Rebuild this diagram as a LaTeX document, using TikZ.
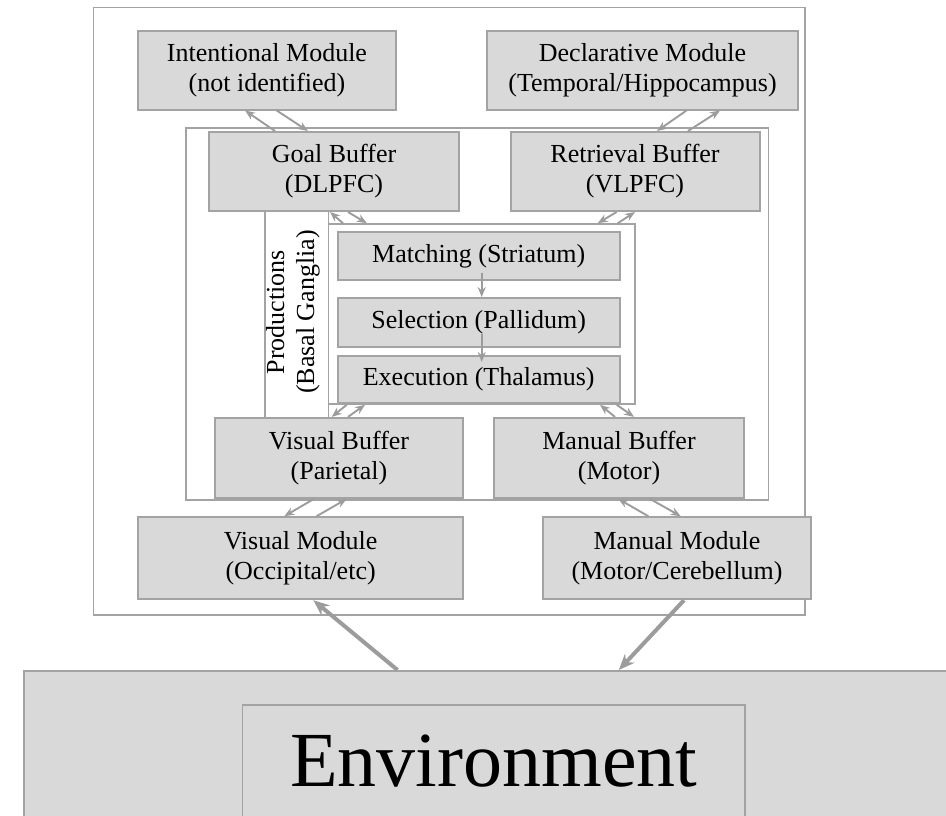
\documentclass[tikz,border=0pt]{standalone}
\usepackage{fontspec}
\setmainfont{Liberation Serif}
\usetikzlibrary{calc,arrows.meta}
\definecolor{boxfill}{HTML}{D9D9D9}
\definecolor{boxline}{HTML}{A3A3A3}
\definecolor{arrgray}{HTML}{9C9C9C}
\tikzset{
	module/.style={draw=boxline, fill=boxfill, line width=2pt, align=center, inner sep=0pt, font=\fontsize{26}{30}\selectfont},
	frame/.style={draw=boxline, line width=1.6pt},
	link/.style={draw=arrgray, line width=1.9pt, -{Stealth[length=10pt,width=8pt]}},
	biglink/.style={draw=arrgray, line width=4pt, -{Stealth[length=16pt,width=13pt]}},
}

\begin{document}
\begin{tikzpicture}[x=1pt,y=-1pt]
		%%%%% START %%%%%
		\useasboundingbox (0,0) rectangle (946,815);
		
		\draw[frame] (93.3,7.3) rectangle (805,615);
		\draw[frame] (186,127.7) rectangle (768.3,500);
		
		\node[frame, minimum width=306.5, minimum height=180] (prod) at (481.75,314) {};
		\draw[frame] (265,211) -- (265,418);
		\draw[frame] (328.5,211) -- (328.5,418);
		\node[rotate=90, align=center, font=\fontsize{26}{30}\selectfont] (prodlbl) at (293,312) {Productions\\(Basal Ganglia)};
		
		\node[module, minimum width=258, minimum height=79] (intent) at (267,70) {Intentional Module\\(not identified)};
		\node[module, minimum width=311, minimum height=79] (declar) at (642.5,70) {Declarative Module\\(Temporal/Hippocampus)};
		\node[module, minimum width=250, minimum height=79] (goal) at (334,171.5) {Goal Buffer\\(DLPFC)};
		\node[module, minimum width=249, minimum height=79] (retr) at (635,171.5) {Retrieval Buffer\\(VLPFC)};
		
		\node[module, minimum width=282, minimum height=48] (match) at (478.7,256) {Matching (Striatum)};
		\node[module, minimum width=282, minimum height=48.5] (select) at (478.7,322.3) {Selection (Pallidum)};
		\node[module, minimum width=282, minimum height=47] (exec) at (478.7,379.4) {Execution (Thalamus)};
		
		\node[module, minimum width=248, minimum height=80] (visbuf) at (339,457.9) {Visual Buffer\\(Parietal)};
		\node[module, minimum width=250, minimum height=80] (manbuf) at (619,457.9) {Manual Buffer\\(Motor)};
		\node[module, minimum width=325, minimum height=82] (vismod) at (300.6,558.2) {Visual Module\\(Occipital/etc)};
		\node[module, minimum width=268, minimum height=82] (manmod) at (677,558.2) {Manual Module\\(Motor/Cerebellum)};
		
		\node[draw=boxline, fill=boxfill, line width=1.6pt, minimum width=940, minimum height=160, anchor=north west] (envbox) at (23.3,670) {};
		\node[draw=boxline, fill=boxfill, line width=1.2pt, inner sep=0pt, minimum width=502.3, minimum height=112.8, font=\fontsize{78}{90}\selectfont] (envlbl) at (493.85,761.4) {Environment};
		
		\draw[link] ([xshift=-59pt]goal.north) -- ([xshift=-22pt]intent.south);
		\draw[link] ([xshift=9.7pt]intent.south) -- ([xshift=-26pt]goal.north);
		\draw[link] ([xshift=44pt]declar.south) -- ([xshift=22pt]retr.north);
		\draw[link] ([xshift=53pt]retr.north) -- ([xshift=77.5pt]declar.south);
		
		\draw[link] ([xshift=-138.75pt]prod.north) -- ([xshift=-4pt]goal.south);
		\draw[link] ([xshift=14pt]goal.south) -- ([xshift=-115pt]prod.north);
		\draw[link] ([xshift=-18.3pt]retr.south) -- ([xshift=116pt]prod.north);
		\draw[link] ([xshift=136pt]prod.north) -- (retr.south);
		
		\draw[link] ([xshift=3pt,yshift=8pt]match.south) -- ([xshift=3pt]select.north);
		\draw[link] ([xshift=3pt,yshift=14pt]select.south) -- ([xshift=3pt,yshift=-7pt]exec.north);
		
		\draw[link] ([xshift=-135pt]prod.south) -- ([xshift=-7.3pt]visbuf.north);
		\draw[link] ([xshift=9pt]visbuf.north) -- ([xshift=-116.75pt]prod.south);
		\draw[link] ([xshift=-4pt]manbuf.north) -- ([xshift=118.25pt]prod.south);
		\draw[link] ([xshift=135pt]prod.south) -- ([xshift=15pt]manbuf.north);
		
		\draw[link] ([xshift=-25pt]visbuf.south) -- ([xshift=-16.3pt]vismod.north);
		\draw[link] ([xshift=16pt]vismod.north) -- ([xshift=7.7pt]visbuf.south);
		\draw[link] ([xshift=-28.7pt]manmod.north) -- ([xshift=-0.7pt]manbuf.south);
		\draw[link] ([xshift=31pt]manbuf.south) -- ([xshift=3.7pt]manmod.north);
		
		\draw[biglink] ([xshift=-96.6pt]envbox.north) -- ([xshift=12.7pt]vismod.south);
		\draw[biglink] ([xshift=7pt]manmod.south) -- ([xshift=124.7pt]envbox.north);
		
		%%%%% END %%%%%
\end{tikzpicture}
\end{document}
